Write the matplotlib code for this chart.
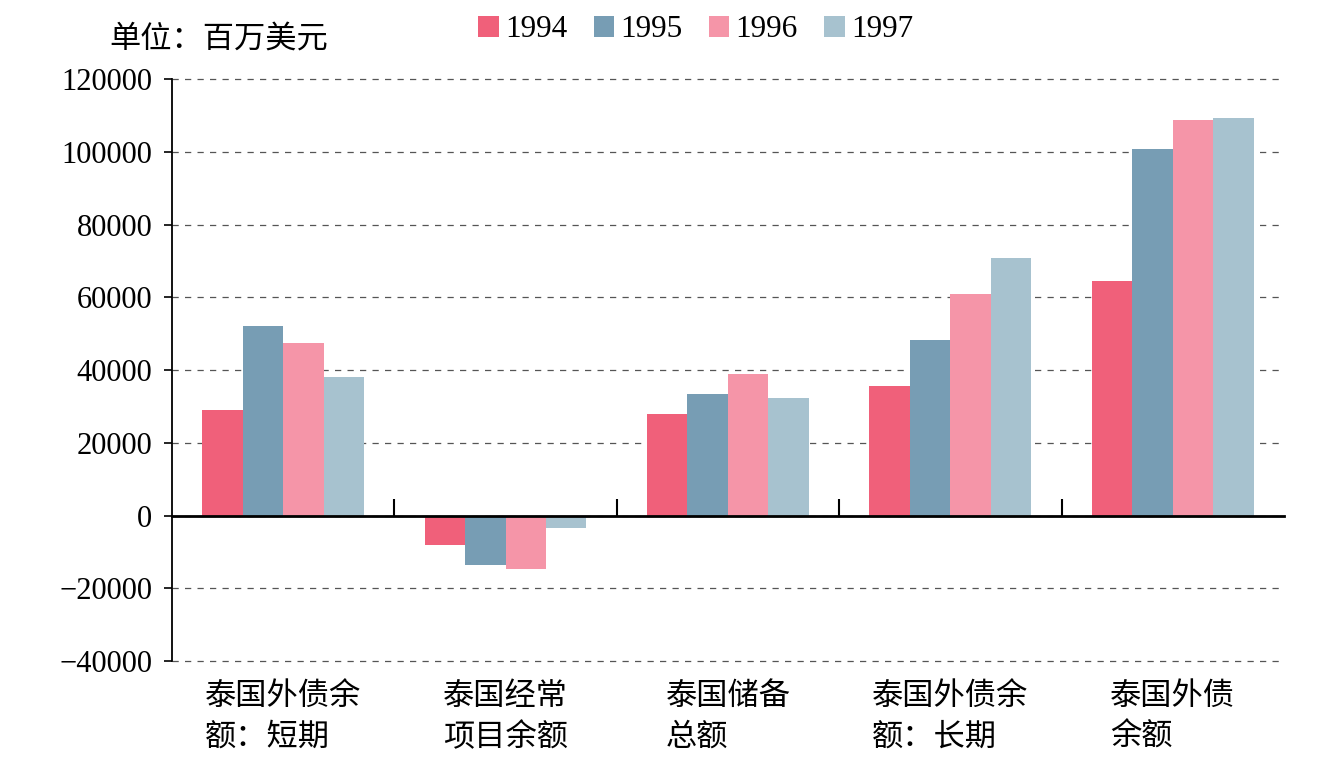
import numpy as np
import matplotlib
matplotlib.use('Agg')
import matplotlib.pyplot as plt
import matplotlib.transforms as mtransforms

plt.rcParams['font.family'] = ['Liberation Serif', 'Noto Sans CJK SC', 'DejaVu Sans']

# Données (millions USD)
categories = ['泰国外债余\n额：短期', '泰国经常\n项目余额', '泰国储备\n总额',
              '泰国外债余\n额：长期', '泰国外债\n余额']
years = ['1994', '1995', '1996', '1997']
v1994 = [29000, -8000, 28000, 35700, 64500]
v1995 = [52200, -13500, 33500, 48300, 100800]
v1996 = [47500, -14600, 39000, 61000, 108700]
v1997 = [38200, -3300, 32400, 70800, 109300]
colors = ['#F0607A', '#779DB4', '#F595A8', '#A7C2CF']

series = [v1994, v1995, v1996, v1997]

fig = plt.figure(figsize=(13.36, 7.75), dpi=100)
ax = fig.add_axes([0.1287, 0.147, 0.8323, 0.751])

x = np.arange(len(categories))
w = 0.182
for k, (vals, col, yr) in enumerate(zip(series, colors, years)):
    ax.bar(x + (k - 1.5) * w, vals, w, color=col, label=yr, zorder=3)

ax.set_xlim(-0.5, len(categories) - 0.5)
ax.set_ylim(-40000, 120000)
ax.set_yticks(np.arange(-40000, 120001, 20000))
ax.tick_params(axis='y', labelsize=22, direction='out', length=6, width=1.2, pad=8)
ax.grid(axis='y', linestyle=(0, (5, 5)), color='#555555', linewidth=0.9, zorder=0)
for gl in ax.get_ygridlines():
    gl.set_clip_on(False)

for s in ['top', 'right']:
    ax.spines[s].set_visible(False)
ax.spines['left'].set_linewidth(1.3)
ax.spines['bottom'].set_position(('data', 0))
ax.spines['bottom'].set_linewidth(2)
ax.spines['bottom'].set_zorder(4)

ax.set_xticks(np.arange(0.5, len(categories) - 0.5, 1))
ax.set_xticklabels([])
ax.tick_params(axis='x', direction='in', length=12, width=1.5)

trans = mtransforms.blended_transform_factory(ax.transData, ax.transAxes)
for i, lab in enumerate(categories):
    ax.text(i, -0.033, lab, transform=trans, ha='center', va='top',
            multialignment='left', fontsize=22.5, linespacing=1.35,
            family=['Noto Sans CJK SC'])

fig.text(0.082, 0.950, '单位：百万美元', fontsize=22.5, ha='left', va='center',
         family=['Noto Sans CJK SC'])

ax.legend(loc='center', bbox_to_anchor=(0.471, 1.085), ncol=4, frameon=False,
          fontsize=22.5, handlelength=0.65, handleheight=0.65, handletextpad=0.2,
          columnspacing=0.85)

fig.savefig('out.png', dpi=100)
